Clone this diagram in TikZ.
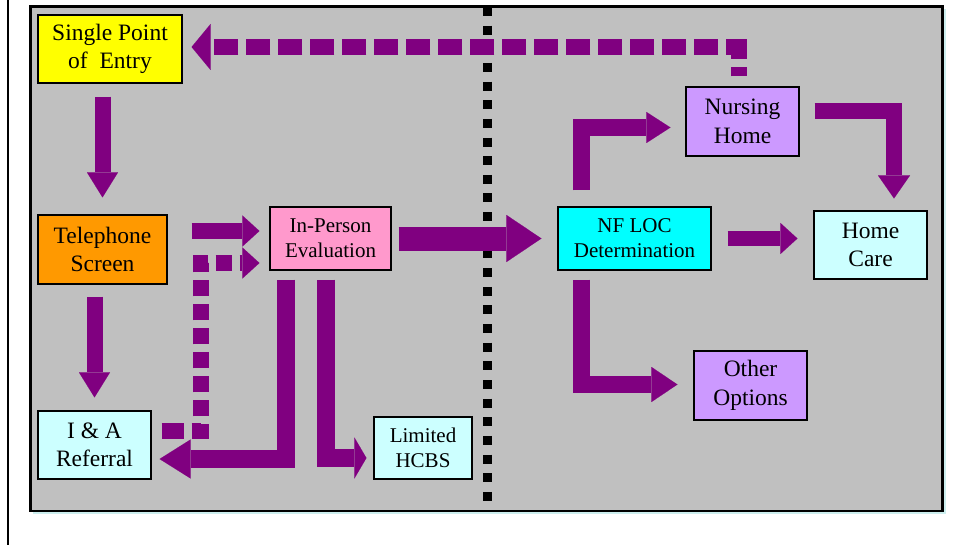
\documentclass[tikz,border=0pt]{standalone}
\usepackage{fontspec}
\setmainfont{Liberation Serif}
\usetikzlibrary{arrows.meta,calc}
\definecolor{pp}{HTML}{800080}
\definecolor{panelgray}{HTML}{C0C0C0}
\definecolor{shadowc}{HTML}{CCEEEE}
\definecolor{cyellow}{HTML}{FFFF00}
\definecolor{corange}{HTML}{FF9900}
\definecolor{cpink}{HTML}{FF99CC}
\definecolor{clcyan}{HTML}{CCFFFF}
\definecolor{ccyan}{HTML}{00FFFF}
\definecolor{clav}{HTML}{CC99FF}
\begin{document}
\begin{tikzpicture}[x=1pt,y=-1pt,
  box/.style={draw=black, line width=1.2pt, inner sep=0pt, align=center, text=black},
  bigtxt/.style={font=\fontsize{23.5}{28.5}\selectfont},
  smalltxt/.style={font=\fontsize{21}{25}\selectfont},
  conn/.style={draw=pp, line join=miter, line cap=butt},
]
\useasboundingbox (0,0) rectangle (957,545);
% frame
\draw[line width=2.5pt] (8,0) -- (8,545);
\fill[shadowc] (33,9) rectangle (945.5,514);
\draw[line width=2.5pt, fill=panelgray] (30.5,6.5) rectangle (942.5,511);
% separator
\draw[line width=9pt, dash pattern=on 9pt off 9.65pt] (487,7) -- (487,501);

% nodes
\node[box, bigtxt, fill=cyellow, minimum width=144pt, minimum height=68pt] (spe) at (110,49) {Single Point\\of\ \ Entry};
\node[box, bigtxt, fill=corange, minimum width=129pt, minimum height=69pt] (ts) at (102.5,249.5) {Telephone\\Screen};
\node[box, smalltxt, fill=cpink, minimum width=121pt, minimum height=63pt] (ip) at (330.5,238.5) {In-Person\\Evaluation};
\node[box, bigtxt, fill=clcyan, minimum width=113pt, minimum height=68pt] (ia) at (94.5,445) {I \& A\\Referral};
\node[box, smalltxt, fill=clcyan, minimum width=98pt, minimum height=62pt] (lh) at (423,448) {Limited\\HCBS};
\node[box, smalltxt, fill=ccyan, minimum width=153pt, minimum height=63pt] (nf) at (634.5,238.5) {NF LOC\\Determination};
\node[box, bigtxt, fill=clcyan, minimum width=113pt, minimum height=68pt] (hc) at (870.5,245) {Home\\Care};
\node[box, bigtxt, fill=clav, minimum width=113pt, minimum height=69pt] (oo) at (750.5,385.5) {Other\\Options};
\node[box, bigtxt, fill=clav, minimum width=113pt, minimum height=69pt] (nh) at (742.5,121.5) {Nursing\\Home};

% connectors
% Single Point -> Telephone Screen
\draw[conn, line width=16pt, -{Triangle[length=25pt,width=31pt,line width=0.01pt]}]
  ($(spe.south -| ts.north)+(0,13)$) -- ($(ts.north)+(0,-17)$);
% Telephone Screen -> I&A Referral
\draw[conn, line width=16pt, -{Triangle[length=25pt,width=31pt,line width=0.01pt]}]
  ($(ts.south -| ia.north)+(0,12)$) -- ($(ia.north)+(0,-13)$);
% Telephone Screen -> In-Person
\draw[conn, line width=16pt, -{Triangle[length=17pt,width=31pt,line width=0.01pt]}]
  ($(ts.east |- ip.west)+(24,-7.5)$) -- ($(ip.west)+(-10,-7.5)$);
% I&A Referral -> In-Person (dashed)
\draw[conn, line width=16pt,
  dash pattern=on 22pt off 8pt on 16pt off 8pt on 16pt off 8pt on 16pt off 8pt on 16pt off 8pt on 16pt off 8pt on 16pt off 8pt on 16pt off 8pt on 16pt off 8pt on 16pt off 8pt on 16pt off 8pt,
  -{Triangle[length=17pt,width=31pt,line width=0.01pt]}]
  ($(ia.east)+(10,-14)$) -| ($(ip.west)+(-68.5,24.5)$) -- ($(ip.west)+(-10,24.5)$);
% In-Person -> NF LOC
\draw[conn, line width=24pt, -{Triangle[length=35pt,width=47pt,line width=0.01pt]}]
  ($(ip.east)+(7,0)$) -- ($(nf.west)+(-16,0)$);
% In-Person -> I&A Referral
\draw[conn, line width=18pt, -{Triangle[length=31pt,width=39pt,line width=0.01pt]}]
  ($(ip.south west)+(16.5,9)$) |- ($(ia.east)+(8,14)$);
% In-Person -> Limited HCBS
\draw[conn, line width=18pt, -{Triangle[length=12pt,width=41pt,line width=0.01pt]}]
  ($(ip.south west)+(56.5,9)$) |- ($(lh.west)+(-7,10)$);
% NF LOC -> Nursing Home
\draw[conn, line width=17pt, -{Triangle[length=24pt,width=31pt,line width=0.01pt]}]
  ($(nf.north west)+(24.5,-16)$) |- ($(nh.west)+(-15,6)$);
% Nursing Home -> Home Care
\draw[conn, line width=16pt, -{Triangle[length=23pt,width=32pt,line width=0.01pt]}]
  ($(nh.east)+(15,-10.5)$) -| ($(hc.north)+(23.5,-12)$);
% NF LOC -> Home Care
\draw[conn, line width=15pt, -{Triangle[length=17pt,width=31pt,line width=0.01pt]}]
  ($(nf.east)+(16,0)$) -- ($(hc.west |- nf.east)+(-16,0)$);
% NF LOC -> Other Options
\draw[conn, line width=17pt, -{Triangle[length=26pt,width=35pt,line width=0.01pt]}]
  ($(nf.south west)+(24.5,9)$) |- ($(oo.west)+(-16,-1)$);
% Nursing Home -> Single Point of Entry (dashed)
\draw[conn, line width=16pt, dash pattern=on 24pt off 8pt, dash phase=14.5pt,
  -{Triangle[length=19pt,width=46pt,line width=0.01pt]}]
  ($(nh.north)+(-4,-10)$) |- ($(spe.east)+(9,-2)$);
\end{tikzpicture}
\end{document}
